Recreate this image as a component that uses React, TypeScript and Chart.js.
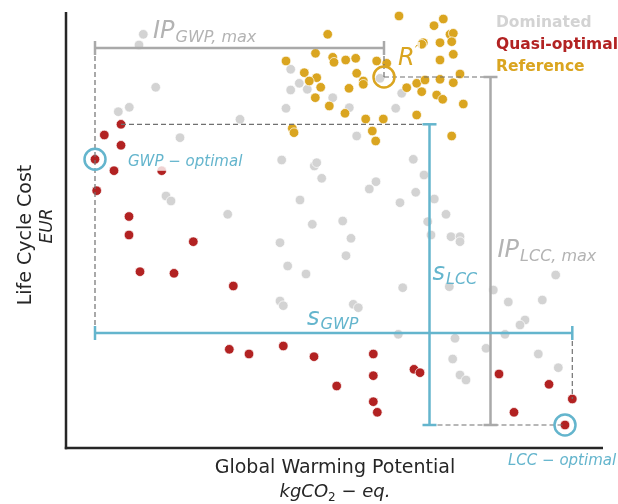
import React, { useEffect, useRef } from "react";
import { Chart, registerables } from "chart.js";

Chart.register(...registerables);

// ---- Data (GWP in arbitrary kgCO2-eq units, LCC in arbitrary EUR units) ----
const seriesLabels = ["Dominated", "Quasi-optimal", "Reference"];

const dominatedGWP = [77.3, 73, 89.7, 52.3, 63.3, 174, 114, 215.7, 248.3, 250.7, 255.7, 100, 105, 234, 161.7, 224.7, 224.7, 233.3, 241.3, 220, 266.7, 283.3, 290.7, 329.7, 335.7, 314, 303.3, 310, 347.3, 358, 349.7, 334, 368.3, 380, 276.7, 361.7, 365, 385, 394, 394, 489.7, 383.3, 336.7, 427.3, 476.3, 442.3, 246.3, 285, 214, 280, 221.7, 240, 214, 217.3, 287.3, 292.3, 459, 454, 332.3, 389, 439, 420, 386.7, 472.3, 492.3, 394, 400];
const dominatedLCC = [413.7, 403, 360.7, 336.3, 340.7, 328.7, 310.3, 288, 282, 285.3, 269.7, 252, 247, 248, 233.7, 378.7, 358, 364.7, 358.7, 339.7, 350.3, 340.3, 312, 339.7, 354.7, 369.7, 259, 266.3, 288.7, 273, 255.7, 245.3, 249, 233.7, 227, 226.3, 213, 211.3, 211.3, 206.3, 173, 161.3, 160.3, 158, 148, 146, 223.7, 209.7, 205.3, 192.3, 182, 174, 147, 142.3, 143.7, 140.3, 128, 123, 113.7, 109.7, 113.7, 99.7, 89, 94, 80.3, 73, 68];

const quasiGWP = [55, 38.3, 55, 29, 48, 30.7, 95.7, 63, 63, 127.3, 74, 108, 167.3, 163.3, 183, 217.3, 248, 270.7, 307.3, 307.3, 307.3, 311.3, 348, 354, 433, 483, 506.3, 448, 499];
const quasiLCC = [323.7, 313, 302.7, 288.7, 277.3, 257.3, 277.3, 231.5, 213, 206.3, 176.3, 174.7, 162, 98.7, 94, 102, 91.3, 62, 94, 72.3, 46.3, 35.7, 78.7, 75.3, 74, 63.7, 49, 35.7, 23];

const referenceGWP = [333, 377.3, 368, 384, 387.3, 357.3, 355.7, 374, 385.7, 261.7, 249.5, 220, 266.7, 268, 279.7, 289.7, 310.7, 320.7, 387.3, 374, 238.3, 250.7, 243.3, 254.7, 290.7, 297.3, 297.3, 283, 249.3, 263.3, 279, 340.7, 350.7, 359, 374, 355.7, 387.3, 394, 370.7, 376.7, 397.3, 350.7, 299.7, 317.3, 306.3, 309.7, 226.3, 228, 385.7];
const referenceLCC = [432, 429, 422.3, 413.7, 414.7, 405.3, 403.7, 405.3, 406.3, 413.7, 394.7, 387, 390.7, 385.7, 388, 389.7, 387, 384.7, 393.7, 388, 375.3, 370.3, 367, 360.7, 374.7, 367, 363.7, 359.7, 350.3, 342, 334.7, 360.3, 364.7, 368, 368.7, 356.3, 365.3, 374, 353, 348.7, 344, 333, 329, 329, 317, 307, 319.7, 315.3, 312];

// reference design R' [GWP, LCC]
const referenceDesign = [318, 371];

// annotation levels (data units)
const ipGwpLevel = 400; // LCC level of IP_GWP,max bracket
const sGwpLevel = 115; // LCC level of s_GWP bracket
const sLccPos = 363.5; // GWP position of s_LCC bracket
const ipLccPos = 424.5; // GWP position of IP_LCC,max bracket

const GRAY_PT = "#d3d3d3";
const RED = "#b22222";
const GOLD = "#daa520";
const BLUE = "#64b5cd";
const BRACKET_GRAY = "#a9a9a9";
const LABEL_GRAY = "#b3b3b3";
const DASH = "#707070";
const TEXT = "#262626";
const FONT = '"DejaVu Sans", sans-serif';

function toPoints(xs: number[], ys: number[]) {
  return xs.map((x, i) => ({ x, y: ys[i] }));
}

const annotationPlugin = {
  id: "paretoAnnotations",
  afterDatasetsDraw(chart: any) {
    const { ctx, chartArea, scales } = chart;
    const X = (v: number) => scales.x.getPixelForValue(v);
    const Y = (v: number) => scales.y.getPixelForValue(v);

    // key designs derived from quasi-optimal data
    const gwpOptIdx = quasiGWP.indexOf(Math.min(...quasiGWP));
    const lccOptIdx = quasiLCC.indexOf(Math.min(...quasiLCC));
    const maxGwpIdx = quasiGWP.indexOf(Math.max(...quasiGWP));
    const maxLccIdx = quasiLCC.indexOf(Math.max(...quasiLCC));
    const gwpOpt = { x: X(quasiGWP[gwpOptIdx]), y: Y(quasiLCC[gwpOptIdx]) };
    const lccOpt = { x: X(quasiGWP[lccOptIdx]), y: Y(quasiLCC[lccOptIdx]) };
    const maxGwp = { x: X(quasiGWP[maxGwpIdx]), y: Y(quasiLCC[maxGwpIdx]) };
    const maxLcc = { x: X(quasiGWP[maxLccIdx]), y: Y(quasiLCC[maxLccIdx]) };
    const ref = { x: X(referenceDesign[0]), y: Y(referenceDesign[1]) };

    const ipGwpY = Y(ipGwpLevel);
    const sGwpY = Y(sGwpLevel);
    const sLccX = X(sLccPos);
    const ipLccX = X(ipLccPos);

    const line = (x1: number, y1: number, x2: number, y2: number, color: string, w: number, dash: number[] = []) => {
      ctx.save();
      ctx.strokeStyle = color;
      ctx.lineWidth = w;
      ctx.setLineDash(dash);
      ctx.beginPath();
      ctx.moveTo(x1, y1);
      ctx.lineTo(x2, y2);
      ctx.stroke();
      ctx.restore();
    };
    const T = 7;
    const bracketH = (x1: number, x2: number, y: number, color: string) => {
      line(x1, y, x2, y, color, 2.5);
      line(x1, y - T, x1, y + T, color, 2.5);
      line(x2, y - T, x2, y + T, color, 2.5);
    };
    const bracketV = (x: number, y1: number, y2: number, color: string) => {
      line(x, y1, x, y2, color, 2.5);
      line(x - T, y1, x + T, y1, color, 2.5);
      line(x - T, y2, x + T, y2, color, 2.5);
    };
    const circle = (p: { x: number; y: number }, color: string) => {
      ctx.save();
      ctx.strokeStyle = color;
      ctx.lineWidth = 2.5;
      ctx.beginPath();
      ctx.arc(p.x, p.y, 10.5, 0, Math.PI * 2);
      ctx.stroke();
      ctx.restore();
    };
    const dash = [5, 3];

    // dashed guide lines
    line(gwpOpt.x, ipGwpY, gwpOpt.x, sGwpY, DASH, 1.2, dash);
    line(maxLcc.x, maxLcc.y, sLccX, maxLcc.y, DASH, 1.2, dash);
    line(ref.x, ref.y, ipLccX, ref.y, DASH, 1.2, dash);
    line(ref.x, ref.y, ref.x, ipGwpY, DASH, 1.2, dash);
    line(sLccX, lccOpt.y, lccOpt.x, lccOpt.y, DASH, 1.2, dash);
    line(maxGwp.x, sGwpY, maxGwp.x, maxGwp.y, DASH, 1.2, dash);

    // brackets
    bracketH(gwpOpt.x, ref.x, ipGwpY, BRACKET_GRAY);
    bracketV(ipLccX, ref.y, lccOpt.y, BRACKET_GRAY);
    bracketH(gwpOpt.x, maxGwp.x, sGwpY, BLUE);
    bracketV(sLccX, maxLcc.y, lccOpt.y, BLUE);

    // circles
    circle(gwpOpt, BLUE);
    circle(lccOpt, BLUE);
    circle(ref, GOLD);

    // math-like text helper
    const math = (base: string, sub: string, x: number, yb: number, color: string, bs = 24, ss = 16, drop = 3.5) => {
      ctx.save();
      ctx.fillStyle = color;
      ctx.textAlign = "left";
      ctx.textBaseline = "alphabetic";
      ctx.font = `italic ${bs}px ${FONT}`;
      ctx.fillText(base, x, yb);
      const w = ctx.measureText(base).width;
      ctx.font = `italic ${ss}px ${FONT}`;
      ctx.fillText(sub, x + w + 1, yb + drop);
      ctx.restore();
    };

    math("IP", "GWP, max", gwpOpt.x + 58, ipGwpY - 10, LABEL_GRAY);
    math("IP", "LCC, max", ipLccX + 7, Y(191), LABEL_GRAY);
    math("s", "GWP", X(241), sGwpY - 8, BLUE);
    math("s", "LCC", sLccX + 3, Y(168), BLUE);

    // R' label with white box
    ctx.save();
    ctx.fillStyle = "rgba(255,255,255,0.75)";
    ctx.fillRect(ref.x + 14, ref.y - 35, 22, 25);
    ctx.fillStyle = GOLD;
    ctx.font = `italic 24px ${FONT}`;
    ctx.textAlign = "left";
    ctx.fillText("R", ref.x + 14, ref.y - 12);
    const rw = ctx.measureText("R").width;
    ctx.font = `italic 14px ${FONT}`;
    ctx.fillText("\u2032", ref.x + 14 + rw, ref.y - 22);
    ctx.restore();

    // GWP-optimal label with translucent white box
    ctx.save();
    ctx.font = `italic 15px ${FONT}`;
    const g = "GWP \u2212 optimal";
    const gw = ctx.measureText(g).width;
    const gx = gwpOpt.x + 33;
    const gy = gwpOpt.y + 6.5;
    ctx.fillStyle = "rgba(255,255,255,0.8)";
    ctx.fillRect(gx - 2, gy - 14, gw + 4, 19);
    ctx.fillStyle = BLUE;
    ctx.fillText(g, gx, gy);
    ctx.restore();

    // LCC-optimal label
    ctx.save();
    ctx.font = `italic 15px ${FONT}`;
    ctx.fillStyle = BLUE;
    ctx.fillText("LCC \u2212 optimal", lccOpt.x - 57, lccOpt.y + 40);
    ctx.restore();

    // spines
    line(chartArea.left, chartArea.top + 2, chartArea.left, chartArea.bottom + 1.2, "#262626", 2.5);
    line(chartArea.left - 1.2, chartArea.bottom, chartArea.right + 1, chartArea.bottom, "#262626", 2.5);

    // legend
    const legendColors = [GRAY_PT, RED, GOLD];
    ctx.save();
    ctx.font = `bold 15.5px ${FONT}`;
    ctx.textAlign = "left";
    seriesLabels.forEach((lab, i) => {
      ctx.fillStyle = legendColors[i];
      ctx.fillText(lab, 496, 26.5 + i * 22);
    });
    ctx.restore();

    // axis titles
    const cx = (chartArea.left + chartArea.right) / 2 + 1;
    ctx.save();
    ctx.fillStyle = TEXT;
    ctx.textAlign = "center";
    ctx.font = `19px ${FONT}`;
    ctx.fillText("Global Warming Potential", cx, chartArea.bottom + 25);
    // kgCO2 - eq.
    const segs = [
      { t: "kgCO", s: false },
      { t: "2", s: true },
      { t: " \u2212 eq.", s: false },
    ];
    ctx.textAlign = "left";
    let total = 0;
    segs.forEach((sg) => {
      ctx.font = `${sg.s ? "12px" : "italic 18px"} ${FONT}`;
      total += ctx.measureText(sg.t).width;
    });
    let xx = cx - total / 2;
    const by = chartArea.bottom + 49;
    segs.forEach((sg) => {
      ctx.font = `${sg.s ? "12px" : "italic 18px"} ${FONT}`;
      ctx.fillText(sg.t, xx, sg.s ? by + 4 : by);
      xx += ctx.measureText(sg.t).width;
    });
    ctx.restore();

    ctx.save();
    ctx.fillStyle = TEXT;
    ctx.textAlign = "center";
    ctx.translate(31, 235);
    ctx.rotate(-Math.PI / 2);
    ctx.font = `19px ${FONT}`;
    ctx.fillText("Life Cycle Cost", 0, 0);
    ctx.restore();
    ctx.save();
    ctx.fillStyle = TEXT;
    ctx.textAlign = "center";
    ctx.translate(52, 226);
    ctx.rotate(-Math.PI / 2);
    ctx.font = `italic 17px ${FONT}`;
    ctx.fillText("EUR", 0, 0);
    ctx.restore();
  },
};

export default function App() {
  const canvasRef = useRef<HTMLCanvasElement | null>(null);

  useEffect(() => {
    if (!canvasRef.current) return;
    const common = { pointRadius: 4.8, borderColor: "#ffffff", borderWidth: 0.7, pointHoverRadius: 4.8, clip: false as any };
    const chart = new Chart(canvasRef.current, {
      type: "scatter",
      data: {
        datasets: [
          { label: seriesLabels[1], data: toPoints(quasiGWP, quasiLCC), backgroundColor: RED, order: 1, ...common },
          { label: seriesLabels[2], data: toPoints(referenceGWP, referenceLCC), backgroundColor: GOLD, order: 2, ...common },
          { label: seriesLabels[0], data: toPoints(dominatedGWP, dominatedLCC), backgroundColor: GRAY_PT, order: 3, ...common },
        ],
      },
      options: {
        animation: false,
        responsive: false,
        devicePixelRatio: 1,
        events: [],
        layout: { padding: { left: 66, right: 16, top: 10, bottom: 56 } },
        scales: {
          x: { type: "linear", min: 0, max: 536, display: false },
          y: { type: "linear", min: 0, max: 438, display: false },
        },
        plugins: { legend: { display: false }, tooltip: { enabled: false } },
      },
      plugins: [annotationPlugin],
    });
    return () => chart.destroy();
  }, []);

  return (
    <div style={{ position: "fixed", left: 0, top: 0, width: 618, height: 504, background: "#fff" }}>
      <canvas ref={canvasRef} width={618} height={504} style={{ display: "block", width: 618, height: 504 }} />
    </div>
  );
}
